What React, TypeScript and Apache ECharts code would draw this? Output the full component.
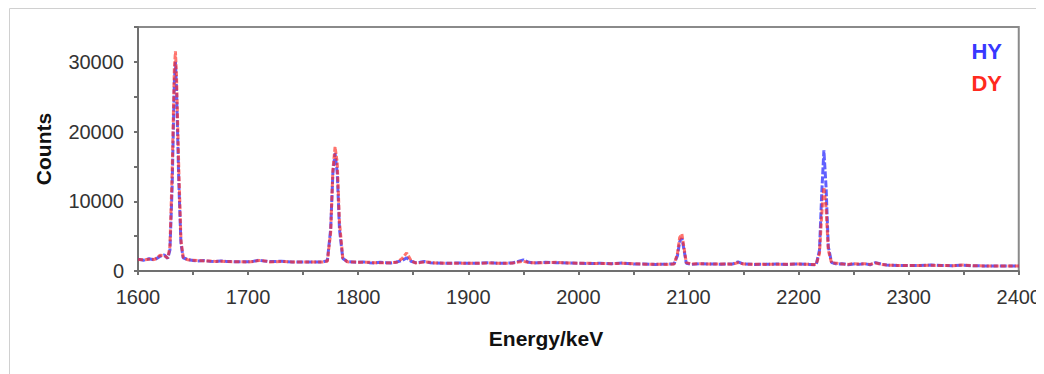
import React, { useEffect, useRef } from "react";
import * as echarts from "echarts";

const energy = [
  1600, 1605, 1610, 1615, 1620, 1624, 1627, 1629, 1631, 1633, 1634, 1635, 1637, 1639, 1641, 1645,
  1650, 1655, 1660, 1665, 1670, 1675, 1680, 1690, 1700, 1705, 1710, 1714, 1720, 1730, 1740, 1750,
  1760, 1768, 1772, 1775, 1777, 1779, 1781, 1783, 1786, 1790, 1795, 1800, 1805, 1810, 1815, 1820,
  1825, 1830, 1835, 1840, 1844, 1848, 1852, 1856, 1860, 1865, 1870, 1880, 1890, 1900, 1910, 1920,
  1930, 1940, 1950, 1955, 1960, 1970, 1980, 1990, 2000, 2010, 2020, 2030, 2040, 2050, 2060, 2070,
  2080, 2087, 2090, 2092, 2094, 2096, 2098, 2103, 2110, 2120, 2130, 2140, 2145, 2150, 2160, 2170,
  2180, 2190, 2200, 2210, 2216, 2219, 2221, 2223, 2225, 2227, 2230, 2235, 2240, 2245, 2250, 2255,
  2260, 2265, 2270, 2275, 2280, 2290, 2300, 2310, 2320, 2330, 2340, 2350, 2360, 2370, 2380, 2390,
  2400,
];

const hyCounts = [
  1700, 1550, 1750, 1600, 2100, 2300, 1800, 3000, 12000, 27000, 30000, 26000, 13000, 4000, 1900, 1650,
  1500, 1450, 1500, 1400, 1350, 1450, 1380, 1320, 1330, 1400, 1550, 1450, 1350, 1400, 1300, 1280,
  1280, 1300, 1500, 6000, 14000, 16900, 14000, 6000, 1800, 1350, 1300, 1250, 1300, 1200, 1150, 1250,
  1200, 1150, 1300, 1500, 1900, 1400, 1200, 1250, 1350, 1200, 1150, 1100, 1150, 1100, 1120, 1180,
  1100, 1150, 1600, 1250, 1150, 1250, 1200, 1150, 1100, 1080, 1100, 1050, 1150, 1000, 1000, 950,
  1000, 1050, 2200, 4200, 4700, 3000, 1100, 950, 1050, 1000, 980, 1000, 1300, 1000, 950, 960,
  1000, 950, 1000, 950, 900, 3000, 11000, 17300, 12000, 3500, 1200, 1000, 1050, 900, 1000, 950,
  1050, 900, 1200, 1000, 850, 800, 780, 800, 850, 780, 760, 820, 740, 730, 720, 710,
  720,
];

const dyCounts = [
  1650, 1600, 1700, 1650, 2250, 2200, 1850, 3500, 14000, 29000, 31500, 28000, 15000, 4500, 2000, 1600,
  1550, 1500, 1450, 1450, 1380, 1400, 1350, 1340, 1300, 1380, 1500, 1480, 1300, 1380, 1300, 1290,
  1280, 1290, 1400, 5500, 14500, 17800, 15500, 7000, 1900, 1320, 1280, 1270, 1260, 1250, 1180, 1200,
  1150, 1200, 1250, 1800, 2600, 1500, 1150, 1200, 1300, 1250, 1150, 1120, 1120, 1100, 1100, 1150,
  1100, 1130, 1400, 1200, 1200, 1200, 1250, 1150, 1120, 1100, 1080, 1050, 1100, 1050, 980, 980,
  950, 1000, 2500, 4800, 5300, 3300, 1200, 1000, 1050, 1000, 1000, 980, 1200, 1000, 960, 950,
  980, 960, 1000, 950, 950, 2500, 8000, 12000, 9000, 3000, 1150, 1100, 1000, 950, 1050, 1000,
  1050, 950, 1150, 950, 850, 800, 790, 780, 820, 780, 770, 850, 740, 730, 720, 720,
  700,
];

const legendNames = ["HY", "DY"];
const xAxisTitle = "Energy/keV";
const yAxisTitle = "Counts";

const HY_COLOR = "#3838ff";
const DY_COLOR = "#ff2a1e";
const FONT = "Liberation Sans, Arial, sans-serif";

export default function App() {
  const ref = useRef<HTMLDivElement>(null);

  useEffect(() => {
    if (!ref.current) return;
    const chart = echarts.init(ref.current, undefined, { renderer: "svg" });
    const hyData = energy.map((e, i) => [e, hyCounts[i]]);
    const dyData = energy.map((e, i) => [e, dyCounts[i]]);

    chart.setOption({
      animation: false,
      backgroundColor: "#ffffff",
      grid: {
        left: 130,
        top: 19,
        width: 883,
        height: 244,
        show: true,
        borderColor: "#8a8a8a",
        borderWidth: 2,
        backgroundColor: "transparent",
      },
      xAxis: {
        type: "value",
        min: 1600,
        max: 2400,
        interval: 50,
        axisLine: { show: true, onZero: false, lineStyle: { color: "#707070", width: 2 } },
        axisTick: { show: true, length: 4, lineStyle: { color: "#707070", width: 2 } },
        splitLine: { show: false },
        axisLabel: {
          margin: 16,
          color: "#333333",
          fontFamily: FONT,
          fontSize: 20,
          formatter: (v: number) => (v % 100 === 0 ? String(v) : ""),
        },
      },
      yAxis: {
        type: "value",
        min: 0,
        max: 35000,
        interval: 5000,
        axisLine: { show: true, lineStyle: { color: "#707070", width: 2 } },
        axisTick: { show: true, length: 4, lineStyle: { color: "#707070", width: 2 } },
        splitLine: { show: false },
        axisLabel: {
          margin: 14,
          color: "#333333",
          fontFamily: FONT,
          fontSize: 20,
          formatter: (v: number) => (v % 10000 === 0 ? String(v) : ""),
        },
      },
      series: [
        {
          name: legendNames[0],
          type: "line",
          data: hyData,
          showSymbol: false,
          symbol: "none",
          lineStyle: { color: HY_COLOR, width: 3, opacity: 0.8, type: [7, 2] },
          z: 2,
        },
        {
          name: legendNames[1],
          type: "line",
          data: dyData,
          showSymbol: false,
          symbol: "none",
          lineStyle: { color: DY_COLOR, width: 3, opacity: 0.65, type: [5, 2] },
          z: 3,
        },
      ],
      graphic: [
        {
          type: "rect",
          shape: { x: 1.5, y: 0.5, width: 3000, height: 3000 },
          style: { fill: "none", stroke: "#d0d0d0", lineWidth: 1 },
          silent: true,
          z: -10,
        },
        {
          type: "text",
          x: 35,
          y: 141,
          rotation: Math.PI / 2,
          style: {
            text: yAxisTitle,
            fill: "#111111",
            font: `bold 21px ${FONT}`,
            align: "center",
            verticalAlign: "middle",
          },
        },
        {
          type: "text",
          x: 538,
          y: 330,
          style: {
            text: xAxisTitle,
            fill: "#111111",
            font: `bold 21px ${FONT}`,
            align: "center",
            verticalAlign: "middle",
          },
        },
        {
          type: "text",
          x: 994,
          y: 43,
          style: {
            text: legendNames[0],
            fill: HY_COLOR,
            font: `bold 22px ${FONT}`,
            align: "right",
            verticalAlign: "middle",
          },
        },
        {
          type: "text",
          x: 994,
          y: 75,
          style: {
            text: legendNames[1],
            fill: DY_COLOR,
            font: `bold 22px ${FONT}`,
            align: "right",
            verticalAlign: "middle",
          },
        },
      ],
    });

    return () => chart.dispose();
  }, []);

  return <div ref={ref} style={{ width: 1036, height: 366 }} />;
}
